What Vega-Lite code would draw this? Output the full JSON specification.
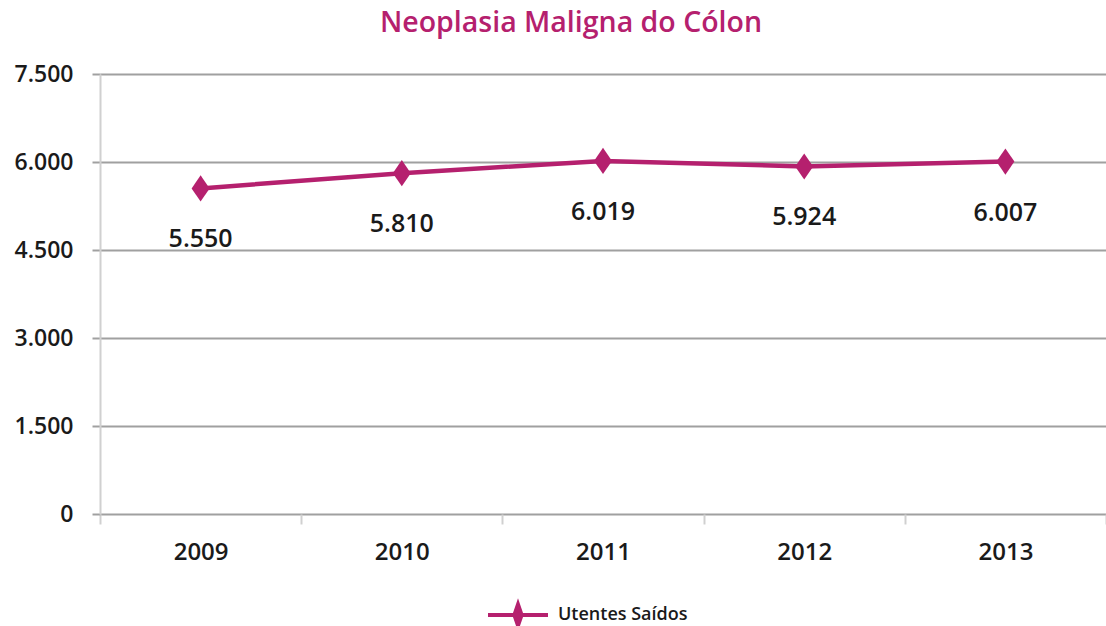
{
  "$schema": "https://vega.github.io/schema/vega-lite/v6.json",
  "width": 1006,
  "height": 440,
  "autosize": {"type": "none"},
  "padding": {"left": 100, "top": 74, "right": 0, "bottom": 112},
  "config": {
    "locale": {"number": {"decimal": ",", "thousands": ".", "grouping": [3], "currency": ["", " €"]}},
    "font": "Open Sans",
    "view": {"stroke": null}
  },
  "title": {
    "text": "Neoplasia Maligna do Cólon",
    "font": "Open Sans",
    "fontSize": 28.5,
    "fontWeight": 600,
    "color": "#B5206E",
    "anchor": "middle",
    "dx": -32,
    "offset": 26
  },
  "data": {
    "values": [
      {"ano": "2009", "valor": 5550},
      {"ano": "2010", "valor": 5810},
      {"ano": "2011", "valor": 6019},
      {"ano": "2012", "valor": 5924},
      {"ano": "2013", "valor": 6007}
    ]
  },
  "encoding": {
    "x": {
      "field": "ano",
      "type": "ordinal",
      "scale": {"type": "band", "paddingInner": 0, "paddingOuter": 0},
      "axis": {
        "title": null,
        "labelAngle": 0,
        "tickBand": "extent",
        "ticks": true,
        "tickColor": "#D0D0D0",
        "tickWidth": 2,
        "tickSize": 10,
        "domain": false,
        "grid": false,
        "labelFont": "Open Sans",
        "labelFontSize": 24,
        "labelFontWeight": 600,
        "labelColor": "#1a1a1a",
        "labelPadding": 16
      }
    },
    "y": {
      "field": "valor",
      "type": "quantitative",
      "scale": {"domain": [0, 7500], "nice": false},
      "axis": {
        "title": null,
        "values": [0, 1500, 3000, 4500, 6000, 7500],
        "format": ",d",
        "grid": true,
        "gridColor": "#A0A0A0",
        "gridWidth": 2,
        "tickColor": "#A0A0A0",
        "tickWidth": 2,
        "tickSize": 8,
        "domain": true,
        "domainColor": "#D0D0D0",
        "domainWidth": 2,
        "labelFont": "Open Sans",
        "labelFontSize": 23,
        "labelFontWeight": 600,
        "labelColor": "#1a1a1a",
        "labelPadding": 19
      }
    }
  },
  "layer": [
    {
      "mark": {"type": "line", "strokeWidth": 4.5},
      "encoding": {
        "color": {
          "datum": "Utentes Saídos",
          "scale": {"range": ["#B5206E"]},
          "legend": {
            "title": null,
            "orient": "none",
            "legendX": 386,
            "legendY": 509,
            "padding": 0,
            "symbolType": "M-1,0L1,0M0,-0.35L0.12,0L0,0.35L-0.12,0Z",
            "symbolSize": 3600,
            "symbolStrokeWidth": 4,
            "symbolStrokeColor": "#B5206E",
            "symbolFillColor": "#B5206E",
            "labelFont": "Open Sans",
            "labelFontSize": 18,
            "labelFontWeight": 600,
            "labelColor": "#1a1a1a",
            "labelOffset": 8
          }
        }
      }
    },
    {
      "mark": {
        "type": "point",
        "shape": "M0,-1.45L1,0L0,1.45L-1,0Z",
        "filled": true,
        "size": 324,
        "opacity": 1,
        "color": "#B5206E"
      }
    },
    {
      "mark": {
        "type": "text",
        "dy": 51,
        "font": "Open Sans",
        "fontSize": 25,
        "fontWeight": 600,
        "color": "#1a1a1a"
      },
      "encoding": {
        "text": {"field": "valor", "type": "quantitative", "format": ",d"}
      }
    }
  ]
}
